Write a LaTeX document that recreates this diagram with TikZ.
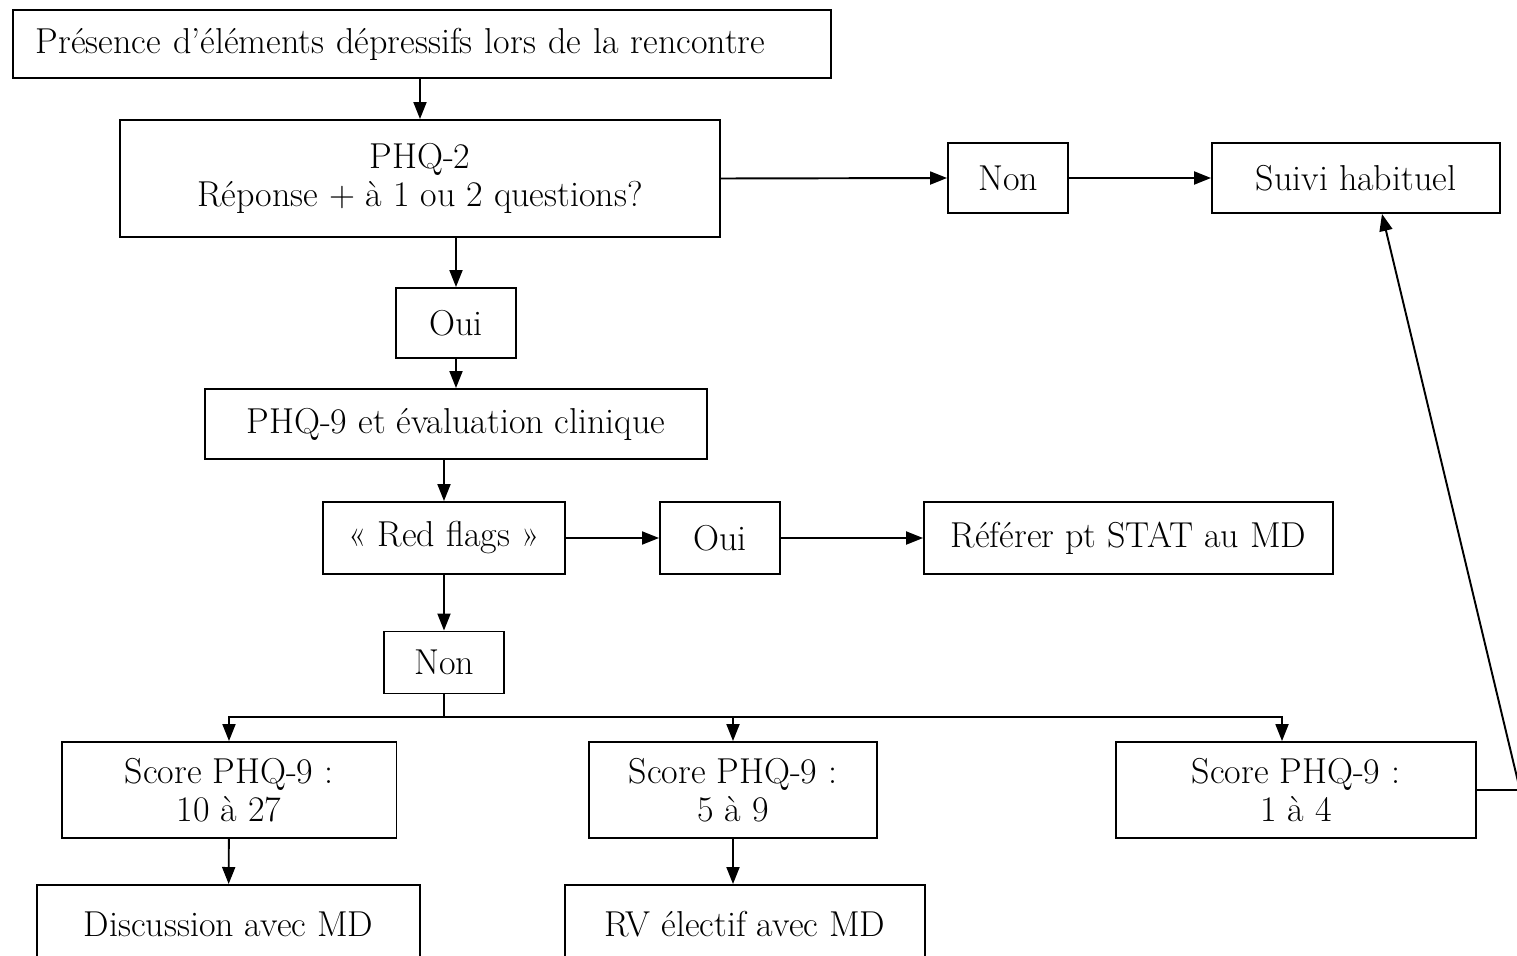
\documentclass[tikz,border=0pt]{standalone}
\usepackage{fontspec}
\usetikzlibrary{arrows.meta}
\tikzset{
	etape/.style={draw, line width=1.1pt, inner sep=0pt, align=center, font=\fontsize{20.5}{21.6}\selectfont},
	fleche/.style={line width=1.1pt, -{Triangle[length=0.34cm,width=0.26cm]}},
	ligne/.style={line width=1.1pt}
}
\begin{document}
\begin{tikzpicture}[x=0.02cm, y=-0.02cm]
	\useasboundingbox (0,0) rectangle (1517,956);
	% TOP
	\node (pres) at (12,44) [etape, anchor=west, align=left, text width=15.44cm, inner xsep=0.46cm, minimum height=1.36cm] {Présence d’éléments dépressifs lors de la rencontre};
	\node (phq2) at (420,178.5) [etape, minimum width=12cm, minimum height=2.34cm] {PHQ-2\\Réponse + à 1 ou 2 questions?};
	\node (nonA) at (1008,178) [etape, minimum width=2.4cm, minimum height=1.4cm] {Non};
	\node (suivi) at (1356,178) [etape, minimum width=5.76cm, minimum height=1.4cm] {Suivi habituel};
	% MIDDLE
	\node (ouiA) at (456,323) [etape, minimum width=2.4cm, minimum height=1.4cm] {Oui};
	\node (phq9) at (456,424) [etape, minimum width=10.06cm, minimum height=1.4cm] {PHQ-9 et évaluation clinique};
	\node (red) at (444,538) [etape, minimum width=4.84cm, minimum height=1.44cm] {« Red flags »};
	\node (ouiB) at (720,538) [etape, minimum width=2.4cm, minimum height=1.44cm] {Oui};
	\node (referer) at (1128.5,538) [etape, minimum width=8.18cm, minimum height=1.44cm] {Référer pt STAT au MD};
	\node (nonB) at (444,662.5) [etape, minimum width=2.4cm, minimum height=1.24cm] {Non};
	% SCORES
	\node (s1) at (229,790) [etape, minimum width=6.7cm, minimum height=1.92cm] {Score PHQ-9 :\\10 à 27};
	\node (s2) at (733,790) [etape, minimum width=5.76cm, minimum height=1.92cm] {Score PHQ-9 :\\5 à 9};
	\node (s3) at (1296,790) [etape, minimum width=7.2cm, minimum height=1.92cm] {Score PHQ-9 :\\1 à 4};
	\node (d1) at (228.5,884) [etape, anchor=north, minimum width=7.66cm, minimum height=1.56cm] {Discussion avec MD};
	\node (d2) at (745,884) [etape, anchor=north, minimum width=7.2cm, minimum height=1.56cm] {RV électif avec MD};
	\coordinate (jonction) at (444,717);
	\coordinate (retour) at (1520,790);
	% ARROWS
	\draw[fleche] (pres.south -| phq2) -- (phq2.north);
	\draw[fleche] (phq2.east) -- (nonA.west);
	\draw[fleche] (nonA) -- (suivi);
	\draw[fleche] (phq2.south -| ouiA) -- (ouiA.north);
	\draw[fleche] (ouiA) -- (phq9);
	\draw[fleche] (phq9.south -| red) -- (red.north);
	\draw[fleche] (red) -- (ouiB);
	\draw[fleche] (ouiB) -- (referer);
	\draw[fleche] (red) -- (nonB);
	\draw[ligne] (nonB) -- (jonction);
	\draw[fleche] (jonction) -| (s1.north);
	\draw[fleche] (jonction) -| (s2.north);
	\draw[fleche] (jonction) -| ([xshift=-0.28cm]s3.north);
	\draw[fleche] (s1) -- (d1);
	\draw[fleche] (s2.south) -- (s2.south |- d2.north);
	\draw[fleche] (s3.east) -- (retour) -- ([xshift=0.52cm]suivi.south);
\end{tikzpicture}
\end{document}
